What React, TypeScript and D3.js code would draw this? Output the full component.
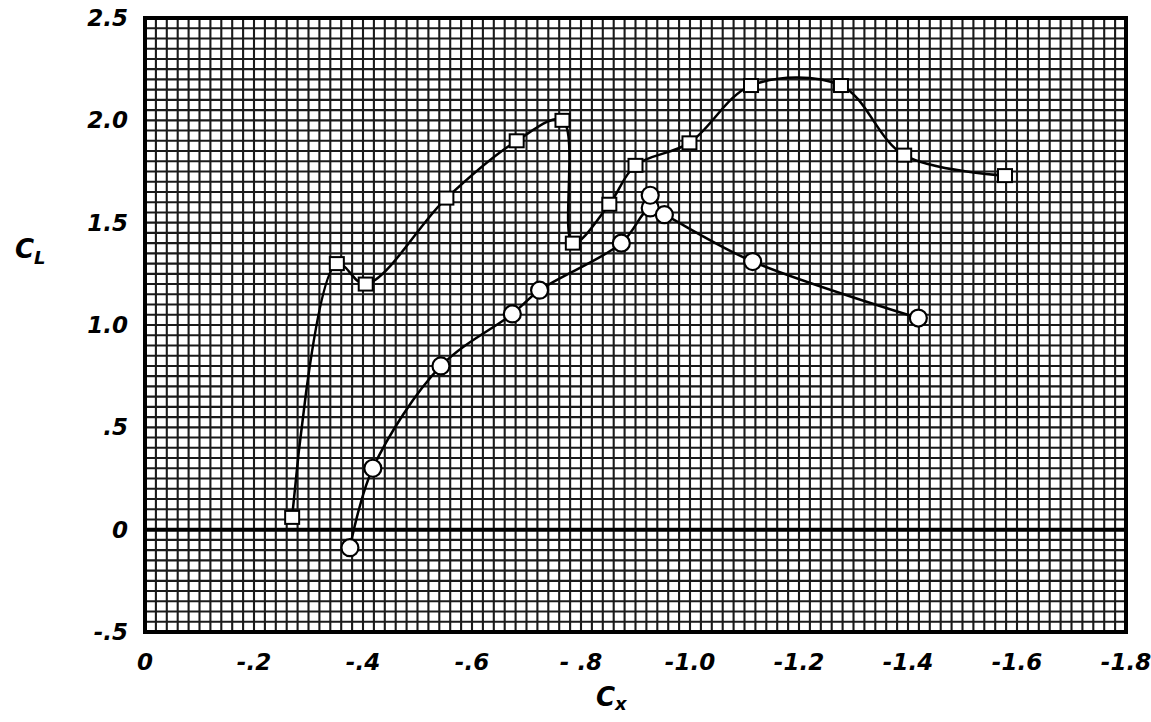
import React from "react";
import * as d3 from "d3";

// Square-marker series (C_x, C_L)
const squareCx = [-0.27, -0.352, -0.405, -0.553, -0.682, -0.766, -0.785, -0.852, -0.9, -0.999, -1.112, -1.277, -1.393, -1.578];
const squareCl = [0.06, 1.3, 1.2, 1.62, 1.9, 2.0, 1.4, 1.59, 1.78, 1.89, 2.17, 2.17, 1.83, 1.73];

// Circle-marker series (C_x, C_L)
const circleCx = [-0.376, -0.418, -0.543, -0.674, -0.724, -0.874, -0.927, -0.953, -1.115, -1.419];
const circleCl = [-0.088, 0.3, 0.8, 1.054, 1.17, 1.4, 1.572, 1.539, 1.31, 1.034];

// Isolated circle point
const extraCircleCx = [-0.927];
const extraCircleCl = [1.634];

const xTickValues = [0, -0.2, -0.4, -0.6, -0.8, -1.0, -1.2, -1.4, -1.6, -1.8];
const xTickLabels = ["0", "-.2", "-.4", "-.6", "- .8", "-1.0", "-1.2", "-1.4", "-1.6", "-1.8"];
const yTickValues = [-0.5, 0, 0.5, 1.0, 1.5, 2.0, 2.5];
const yTickLabels = ["-.5", "0", ".5", "1.0", "1.5", "2.0", "2.5"];

export default function App() {
  const W = 1151, H = 722;
  const x = d3.scaleLinear().domain([0, -1.8]).range([145, 1126]);
  const y = d3.scaleLinear().domain([-0.5, 2.5]).range([632, 18]);

  const xGrid = d3.range(0, 91).map((i) => -i * 0.02);
  const yGrid = d3.range(0, 61).map((i) => -0.5 + i * 0.05);

  const line = d3
    .line<[number, number]>()
    .x((d) => x(d[0]))
    .y((d) => y(d[1]))
    .curve(d3.curveCatmullRom.alpha(0.5));

  const sq: [number, number][] = squareCx.map((v, i) => [v, squareCl[i]]);
  const ci: [number, number][] = circleCx.map((v, i) => [v, circleCl[i]]);
  const ex: [number, number][] = extraCircleCx.map((v, i) => [v, extraCircleCl[i]]);

  const font = "'DejaVu Sans', sans-serif";
  const [x0, x1] = x.range();
  const [y0, y1] = y.range();

  return (
    <svg width={W} height={H} style={{ position: "absolute", left: 0, top: 0, background: "#fff" }}>
      <rect x={0} y={0} width={W} height={H} fill="#fff" />
      <g stroke="#1a1a1a" strokeWidth={2.1}>
        {xGrid.map((v, i) => (
          <line key={"gx" + i} x1={x(v)} x2={x(v)} y1={y1} y2={y0} />
        ))}
        {yGrid.map((v, i) => (
          <line key={"gy" + i} x1={x0} x2={x1} y1={y(v)} y2={y(v)} />
        ))}
      </g>
      <line x1={x0} x2={x1} y1={y(0)} y2={y(0)} stroke="#000" strokeWidth={4} />
      <rect x={x0} y={y1} width={x1 - x0} height={y0 - y1} fill="none" stroke="#000" strokeWidth={4} />

      <path d={line(sq) || ""} fill="none" stroke="#000" strokeWidth={2.5} />
      <path d={line(ci) || ""} fill="none" stroke="#000" strokeWidth={2.5} />

      {sq.map((d, i) => (
        <rect key={"s" + i} x={x(d[0]) - 7} y={y(d[1]) - 6.5} width={14} height={13} fill="#fff" stroke="#000" strokeWidth={2} />
      ))}
      {ci.concat(ex).map((d, i) => (
        <circle key={"c" + i} cx={x(d[0])} cy={y(d[1])} r={8.5} fill="#fff" stroke="#000" strokeWidth={2.2} />
      ))}

      <g fontFamily={font} fontStyle="italic" fontWeight="bold" fontSize={23} fill="#000">
        {xTickValues.map((v, i) => (
          <text key={"xt" + i} x={x(v)} y={670} textAnchor="middle">
            {xTickLabels[i]}
          </text>
        ))}
        {yTickValues.map((v, i) => (
          <text key={"yt" + i} x={128} y={y(v) + 8} textAnchor="end">
            {yTickLabels[i]}
          </text>
        ))}
        <text x={15} y={258} fontSize={26}>
          C
          <tspan fontSize={18} dy={6}>L</tspan>
        </text>
        <text x={596} y={706} fontSize={26}>
          C
          <tspan fontSize={18} dy={4}>x</tspan>
        </text>
      </g>
    </svg>
  );
}
